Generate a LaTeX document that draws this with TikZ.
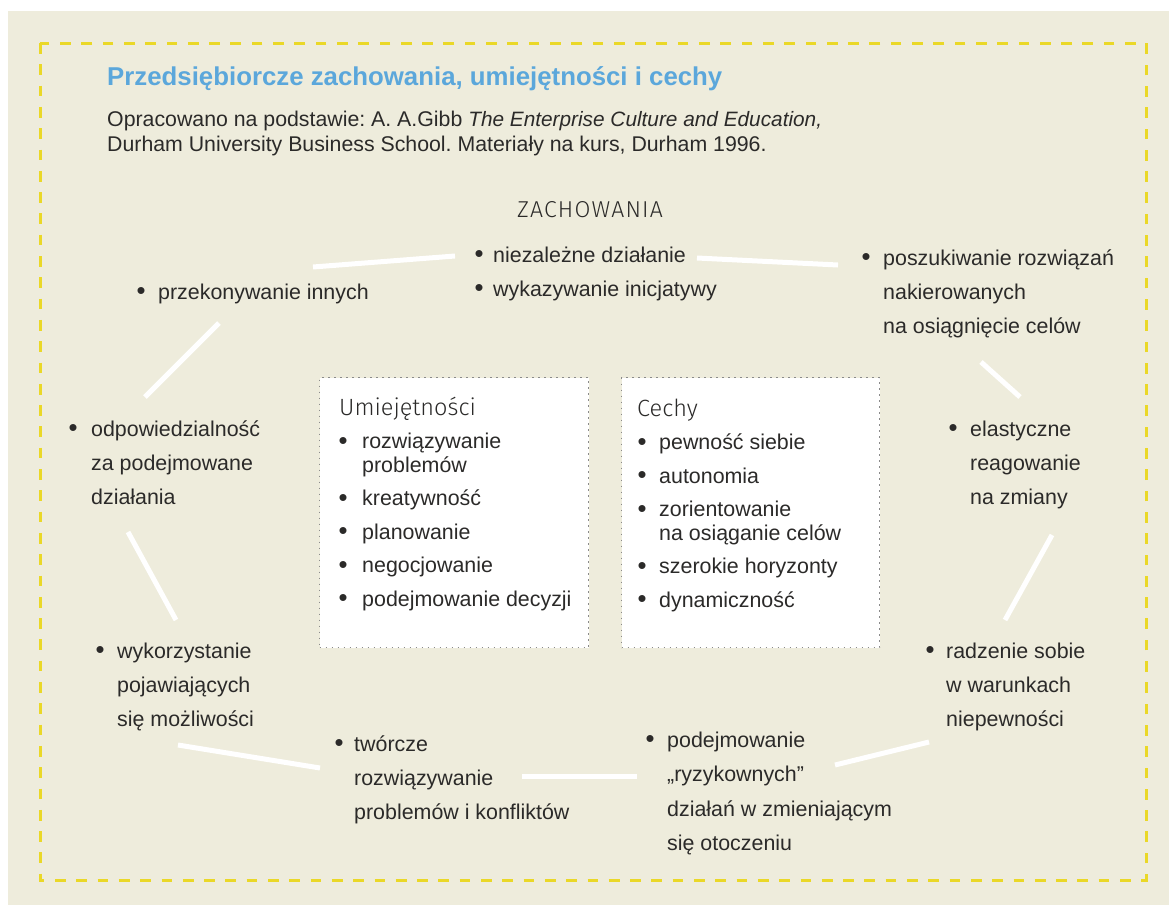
\documentclass[tikz,border=0pt]{standalone}
\usepackage{fontspec}
\setmainfont{Liberation Sans}
\newfontfamily\lightfont{Fira Sans Light}
\newfontfamily\lightwide{Fira Sans Light}[LetterSpace=5]
\definecolor{bgbeige}{HTML}{EEECDC}
\definecolor{dashyellow}{HTML}{EAD828}
\definecolor{titleblue}{HTML}{5BA7DB}
\definecolor{textdark}{HTML}{2B2A29}
\definecolor{dotgray}{HTML}{8A8A8A}
\newcommand\bul[1][34pt]{\llap{\makebox[#1][c]{\raisebox{-0.6pt}{\scalebox{1.2}{•}}}}}
\newcommand\lines[1]{\begin{tabular}[t]{@{}l@{}}#1\end{tabular}}
\newcommand\boxhead[1]{{\fontsize{23.5}{23.5}\selectfont\lightfont #1}}
\frenchspacing
\begin{document}
\begin{tikzpicture}[x=1pt,y=-1pt,
  item/.style={anchor=base west, inner sep=0pt, text=textdark,
    font=\fontsize{21.4}{34.2}\selectfont},
  boxtext/.style={anchor=base west, inner sep=0pt, text=textdark,
    font=\fontsize{21.4}{23.5}\selectfont},
  boxframe/.style={draw=dotgray, fill=white, line width=1.4pt,
    dash pattern=on 1.4pt off 4.6pt, anchor=north west, inner sep=0pt},
  conn/.style={draw=white, line width=5pt}]
\useasboundingbox (0,0) rectangle (1169,905);
\fill[white] (0,0) rectangle (1169,905);
\fill[bgbeige] (8,11) rectangle (1169,905);
\draw[dashyellow, line width=3pt, dash pattern=on 10.7pt off 10.6pt] (40,43) rectangle (1146,880);

% title and source
\node[anchor=base west, inner sep=0pt, text=titleblue,
  font=\fontsize{25.8}{30}\selectfont\bfseries] (title) at (107,85)
  {Przedsiębiorcze zachowania, umiejętności i cechy};
\node[anchor=base west, inner sep=0pt, text=textdark,
  font=\fontsize{21.3}{25.3}\selectfont] (source) at (107,126)
  {\lines{Opracowano na podstawie: A. A.Gibb {\fontsize{20.8}{25.3}\selectfont\itshape The Enterprise Culture and Education,}\\
  Durham University Business School. Materiały na kurs, Durham 1996.}};

\node[anchor=base, inner sep=0pt, text=textdark,
  font=\fontsize{23}{25}\selectfont\lightwide] (zach) at (590,217) {ZACHOWANIA};

% central boxes
\node[boxframe, minimum width=269pt, minimum height=270pt] (ubox) at (319,377) {};
\node[boxframe, minimum width=258pt, minimum height=270pt] (cbox) at (621,377) {};
\node[boxtext] (utext) at (339,415) {\lines{\boxhead{Umiejętności}\\[10pt]
  \hspace*{23pt}\bul[38pt]rozwiązywanie\\
  \hspace*{23pt}problemów\\[10pt]
  \hspace*{23pt}\bul[38pt]kreatywność\\[10pt]
  \hspace*{23pt}\bul[38pt]planowanie\\[10pt]
  \hspace*{23pt}\bul[38pt]negocjowanie\\[10pt]
  \hspace*{23pt}\bul[38pt]podejmowanie decyzji}};
\node[boxtext] (ctext) at (637,416) {\lines{\boxhead{Cechy}\\[10pt]
  \hspace*{22pt}\bul pewność siebie\\[10pt]
  \hspace*{22pt}\bul autonomia\\[10pt]
  \hspace*{22pt}\bul zorientowanie\\
  \hspace*{22pt}na osiąganie celów\\[10pt]
  \hspace*{22pt}\bul szerokie horyzonty\\[10pt]
  \hspace*{22pt}\bul dynamiczność}};

% outer items
\node[item] (przek) at (158,299) {\lines{\bul przekonywanie innych}};
\node[item] (niez) at (493,262) {\lines{\bul[28pt]niezależne działanie\\ \bul[28pt]wykazywanie inicjatywy}};
\node[item] (posz) at (883,265) {\lines{\bul poszukiwanie rozwiązań\\ nakierowanych\\ na osiągnięcie celów}};
\node[item] (odp) at (91,436) {\lines{\bul[36pt]odpowiedzialność\\ za podejmowane\\ działania}};
\node[item] (elast) at (970,436) {\lines{\bul elastyczne\\ reagowanie\\ na zmiany}};
\node[item] (wyk) at (117,658) {\lines{\bul wykorzystanie\\ pojawiających\\ się możliwości}};
\node[item] (radz) at (946,658) {\lines{\bul[32pt]radzenie sobie\\ w warunkach\\ niepewności}};
\node[item] (twor) at (354,751) {\lines{\bul[30pt]twórcze\\ rozwiązywanie\\ problemów i konfliktów}};
\node[item, font=\fontsize{21.4}{34.5}\selectfont] (podej) at (667,747) {\lines{\bul podejmowanie\\ „ryzykownych”\\ działań w zmieniającym\\ się otoczeniu}};

% connectors
\coordinate (a1) at (313,267); \coordinate (a2) at (455,256);
\coordinate (b1) at (697,258); \coordinate (b2) at (838,265);
\coordinate (c1) at (219,323); \coordinate (c2) at (145,397);
\coordinate (d1) at (981,362); \coordinate (d2) at (1020,397);
\coordinate (e1) at (128,532); \coordinate (e2) at (176,620);
\coordinate (f1) at (1052,535); \coordinate (f2) at (1005,620);
\coordinate (g1) at (178,745); \coordinate (g2) at (320,768);
\coordinate (h1) at (522,776); \coordinate (h2) at (637,776);
\coordinate (i1) at (835,765); \coordinate (i2) at (929,742);
\draw[conn] (a1) -- (a2);
\draw[conn] (b1) -- (b2);
\draw[conn] (c1) -- (c2);
\draw[conn] (d1) -- (d2);
\draw[conn] (e1) -- (e2);
\draw[conn] (f1) -- (f2);
\draw[conn] (g1) -- (g2);
\draw[conn] (h1) -- (h2);
\draw[conn] (i1) -- (i2);
\end{tikzpicture}
\end{document}
